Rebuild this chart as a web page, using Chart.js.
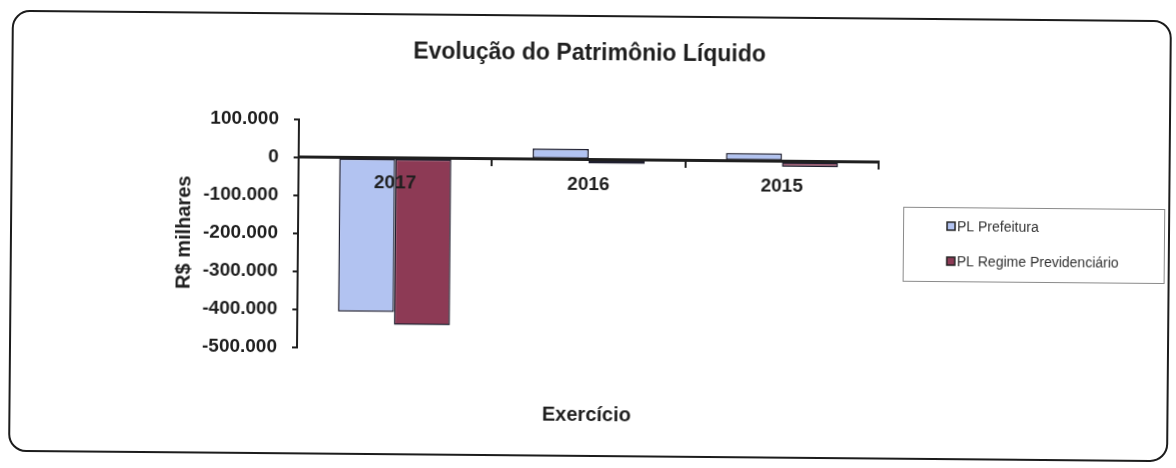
<!DOCTYPE html>
<html lang="pt-BR">
<head>
<meta charset="utf-8">
<title>Evolução do Patrimônio Líquido</title>
<script src="https://cdn.jsdelivr.net/npm/chart.js@4.4.1/dist/chart.umd.min.js"></script>
<style>
  html, body { margin: 0; padding: 0; background: #fff; }
  #wrap { position: relative; width: 1176px; height: 468px; transform: rotate(0.5deg); }
  #frame {
    position: absolute; left: 10px; top: 15px; width: 1156px; height: 438px;
    border: 2px solid #1c1c1c; border-radius: 18px;
  }
  #chart { position: absolute; left: 0; top: 0; }
</style>
</head>
<body>
<div id="wrap">
  <div id="frame"></div>
  <canvas id="chart" width="1176" height="468"></canvas>
</div>
<script>
// Valores em R$ milhares
const years        = ['2017', '2016', '2015'];
const plPrefeitura = [-405000, 28000, 21000];
const plRegime     = [-438000, -10000, -14000];
const yTicks       = [100000, 0, -100000, -200000, -300000, -400000, -500000];

const FONT = "'Liberation Sans', Arial, sans-serif";
const INK  = '#1f1f1f';

function fmt(v) {
  const s = Math.abs(v).toString().replace(/\B(?=(\d{3})+(?!\d))/g, '.');
  return (v < 0 ? '-' : '') + s;
}

// Legenda com moldura, no estilo do Excel
const boxLegend = {
  id: 'boxLegend',
  afterDraw(chart) {
    const { ctx } = chart;
    const x0 = 903, y0 = 204, w = 261, h = 74;
    ctx.save();
    ctx.strokeStyle = '#8a8a8a';
    ctx.lineWidth = 1;
    ctx.strokeRect(x0 + 0.5, y0 + 0.5, w, h);
    ctx.font = '14px ' + FONT;
    ctx.textBaseline = 'middle';
    chart.data.datasets.forEach((ds, i) => {
      const cy = 223 + i * 35;
      ctx.fillStyle = ds.backgroundColor;
      ctx.fillRect(947, cy - 4, 8, 8);
      ctx.strokeStyle = '#222';
      ctx.lineWidth = 1.5;
      ctx.strokeRect(947, cy - 4, 8, 8);
      ctx.fillStyle = '#333';
      ctx.fillText(ds.label, 957, cy + 1);
    });
    ctx.restore();
  },
};

new Chart(document.getElementById('chart'), {
  type: 'bar',
  data: {
    labels: years,
    datasets: [
      {
        label: 'PL Prefeitura',
        data: plPrefeitura,
        backgroundColor: '#b2c3f1',
        borderColor: '#1e1e2e',
        borderWidth: 1.5,
        borderSkipped: false,
      },
      {
        label: 'PL Regime Previdenciário',
        data: plRegime,
        backgroundColor: '#8d3a55',
        borderColor: '#1e1e2e',
        borderWidth: 1.5,
        borderSkipped: false,
      },
    ],
  },
  plugins: [boxLegend],
  options: {
    responsive: false,
    animation: false,
    events: [],
    layout: { padding: { left: 160, right: 298, top: 30, bottom: 0 } },
    datasets: { bar: { categoryPercentage: 0.58, barPercentage: 1.0 } },
    plugins: {
      legend: { display: false },
      tooltip: { enabled: false },
      title: {
        display: true,
        text: 'Evolução do Patrimônio Líquido',
        fullSize: false,
        color: INK,
        font: { family: FONT, size: 23, weight: 'bold' },
        padding: { top: 10, bottom: 54 },
      },
      subtitle: {
        display: true,
        position: 'bottom',
        text: 'Exercício',
        fullSize: false,
        color: INK,
        font: { family: FONT, size: 20, weight: 'bold' },
        padding: { top: 53, bottom: 41 },
      },
    },
    scales: {
      x: {
        position: { y: 0 },
        offset: true,
        grid: {
          offset: true,
          drawOnChartArea: false,
          drawTicks: true,
          tickLength: 6,
          color: INK,
          lineWidth: 2,
          z: 1,
        },
        border: { display: true, color: INK, width: 3, z: 1 },
        ticks: {
          z: 1,
          color: INK,
          padding: 8,
          font: { family: FONT, size: 19, weight: 'bold' },
        },
      },
      y: {
        min: -500000,
        max: 100000,
        afterFit(scale) { scale.width = 138; },
        afterBuildTicks(scale) { scale.ticks = yTicks.map(v => ({ value: v })); },
        grid: {
          drawOnChartArea: false,
          drawTicks: true,
          tickLength: 5,
          color: INK,
          lineWidth: 2,
        },
        border: { display: true, color: INK, width: 2 },
        ticks: {
          color: INK,
          padding: 15,
          font: { family: FONT, size: 19, weight: 'bold' },
          callback: (v) => fmt(v),
        },
        title: {
          display: true,
          text: 'R$ milhares',
          color: INK,
          font: { family: FONT, size: 20, weight: 'bold' },
          padding: { top: 12, bottom: 0 },
        },
      },
    },
  },
});
</script>
</body>
</html>
